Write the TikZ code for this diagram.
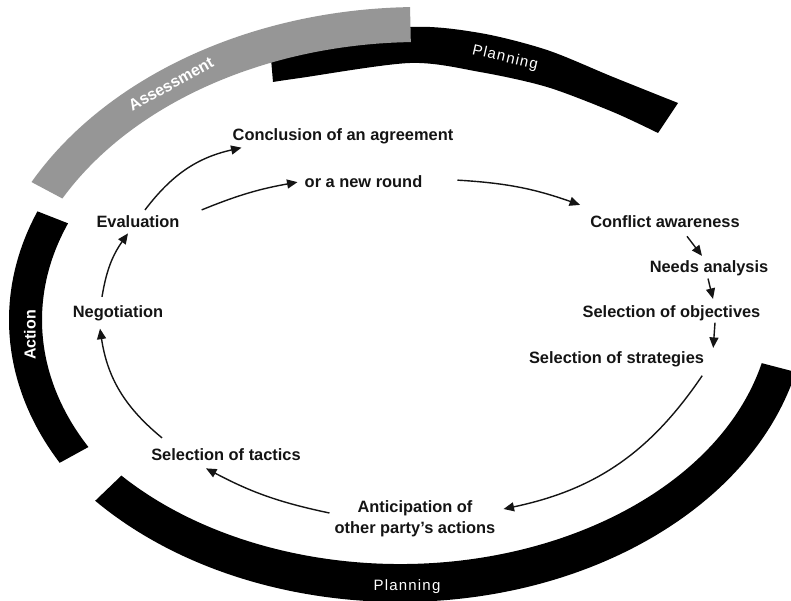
\documentclass[tikz,border=0pt]{standalone}
\usepackage{fontspec}
\setmainfont{Liberation Sans}
\newfontfamily\planfont[LetterSpace=8]{Liberation Sans}
\usetikzlibrary{arrows.meta}
\definecolor{assessgray}{RGB}{150,150,150}
\definecolor{inkblack}{RGB}{20,20,20}
\begin{document}
\begin{tikzpicture}[x=1pt,y=1pt,
  lbl/.style={font=\fontsize{16.4}{21}\selectfont\bfseries, inner sep=1pt, text=inkblack, anchor=base},
  arr/.style={-{Triangle[length=10.5pt,width=9pt]}, line width=1.4pt, inkblack},
  bandlbl/.style={text=white, inner sep=0pt},
]
\useasboundingbox (0,0) rectangle (791,601);
\clip (0,0) rectangle (791,601);

% top Planning band (behind Assessment)
\fill[black] plot[smooth] coordinates {(270,554) (300,559) (410,574) (480,568) (547,551) (613,524) (678,498)}
  -- plot[smooth] coordinates {(658,468) (613,489) (547,514) (480,529) (410,538) (300,523) (273,519)} -- cycle;

% Assessment band
\fill[assessgray] ([shift={(420,264)}]91.3:440 and 330) arc[start angle=91.3, end angle=152, x radius=440, y radius=330]
  -- ([shift={(420,264)}]152:405 and 295) arc[start angle=152, end angle=91.3, x radius=405, y radius=295] -- cycle;

% Action band
\fill[black] ([shift={(400,281)}]158:391 and 290) arc[start angle=158, end angle=209.5, x radius=391, y radius=290]
  -- ([shift={(400,281)}]209.5:358 and 258) arc[start angle=209.5, end angle=158, x radius=358, y radius=258] -- cycle;

% bottom Planning band
\fill[black] ([shift={(400,299)}]221.5:407 and 300) arc[start angle=221.5, end angle=346.5, x radius=407, y radius=300]
  -- ([shift={(400,299)}]346.5:372 and 262) arc[start angle=346.5, end angle=221.5, x radius=372, y radius=262] -- cycle;

% band labels
\node[bandlbl, rotate=29, font=\fontsize{16}{18}\selectfont\bfseries] (assess) at (171,517) {Assessment};
\node[bandlbl, rotate=-13, font=\fontsize{15}{18}\selectfont\planfont] (plantop) at (505,543) {Planning};
\node[bandlbl, rotate=90, font=\fontsize{16}{18}\selectfont\bfseries] (action) at (30,266) {Action};
\node[bandlbl, font=\fontsize{15}{18}\selectfont\planfont] (planbot) at (407,14) {Planning};

% step labels
\node[lbl] (concl) at (343,460) {Conclusion of an agreement};
\node[lbl] (round) at (363.5,413) {or a new round};
\node[lbl] (ev) at (138,373) {Evaluation};
\node[lbl] (neg) at (118,283) {Negotiation};
\node[lbl] (tac) at (226,140) {Selection of tactics};
\node[lbl, anchor=center, align=center] (ant) at (415,82) {Anticipation of\\other party's actions};
\node[lbl] (strat) at (616.5,237) {Selection of strategies};
\node[lbl] (obj) at (671.5,283) {Selection of objectives};
\node[lbl] (needs) at (709,328) {Needs analysis};
\node[lbl] (conf) at (665,373) {Conflict awareness};

% connectors
\draw[arr] ([xshift=7pt,yshift=5pt]ev.north) to[bend left=20] ([xshift=10pt,yshift=-2pt]concl.south west);
\draw[arr] ([xshift=21pt,yshift=5pt]ev.north east) to[bend left=6] ([xshift=-6pt]round.west);
\draw[arr] ([xshift=34pt,yshift=2pt]round.east) to[bend left=8] ([xshift=-9pt,yshift=10pt]conf.north west);
\draw[arr] ([xshift=22pt,yshift=-7pt]conf.south) -- ([xshift=-7pt,yshift=4pt]needs.north);
\draw[arr] ([xshift=-1pt,yshift=-1pt]needs.south) -- ([xshift=41.5pt,yshift=6pt]obj.north);
\draw[arr] ([xshift=43.5pt]obj.south) -- ([xshift=8pt,yshift=3pt]strat.north east);
\draw[arr] ([xshift=-3pt,yshift=-7pt]strat.south east) to[bend left=22] ([xshift=7pt,yshift=10pt]ant.east);
\draw[arr] ([xshift=-4pt,yshift=6pt]ant.west) to[bend left=8] ([xshift=-20pt,yshift=-6pt]tac.south);
\draw[arr] ([xshift=12pt,yshift=10pt]tac.north west) to[bend left=21] ([xshift=-18pt,yshift=-6pt]neg.south);
\draw[arr] ([xshift=-16pt,yshift=8pt]neg.north) to[bend left=13] ([xshift=-10pt,yshift=-4pt]ev.south);
\end{tikzpicture}
\end{document}
